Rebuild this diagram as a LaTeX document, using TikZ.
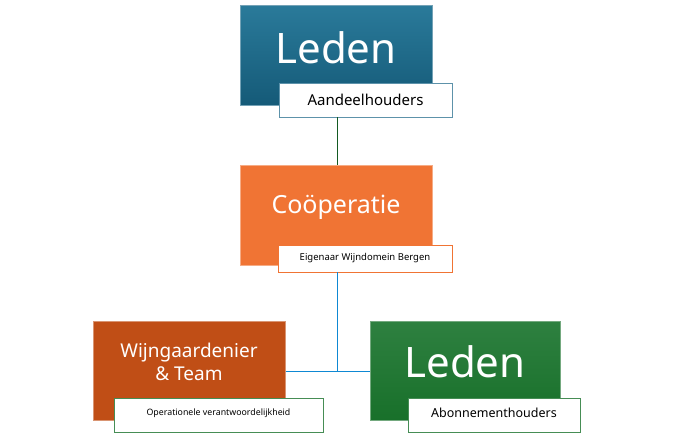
\documentclass[tikz,border=0pt]{standalone}
\usepackage{fontspec}
\setmainfont{Noto Sans}
\usetikzlibrary{positioning}
\definecolor{cblue}{HTML}{176485}
\definecolor{cblueT}{HTML}{2A7A9A}
\definecolor{corange}{HTML}{F07434}
\definecolor{cbrown}{HTML}{C04E16}
\definecolor{cgreen}{HTML}{18702A}
\definecolor{cgreenT}{HTML}{2E8040}
\tikzset{
  bigbox/.style={draw=#1!60!white, line width=0.8pt, anchor=north west, inner sep=0pt, text=white},
  lbl/.style={draw=#1, line width=0.8pt, fill=white, anchor=north west, inner sep=0pt, text=black},
}
\begin{document}
\begin{tikzpicture}[x=1pt,y=-1pt]
\useasboundingbox (0,0) rectangle (700,435);
% top
\node[bigbox=cblue, top color=cblueT, bottom color=cblue!90!black, minimum width=192pt, minimum height=100pt] (top) at (240,5) {};
\node[text=white, font=\fontsize{42}{46}\selectfont] (topt) at (336,48) {Leden};
\node[lbl=cblue!70, minimum width=173pt, minimum height=34pt] (topl) at (279,83) {};
\node[font=\fontsize{15}{18}\selectfont] (toplt) at (365.5,100) {Aandeelhouders};
% middle
\node[bigbox=corange, fill=corange, minimum width=192pt, minimum height=100pt] (mid) at (240,165) {};
\node[text=white, font=\fontsize{25}{30}\selectfont] (midt) at (336,207) {Coöperatie};
\node[lbl=corange, minimum width=174pt, minimum height=27pt] (midl) at (278,245) {};
\node[font=\fontsize{9.5}{11}\selectfont] (midlt) at (365,258.5) {Eigenaar Wijndomein Bergen};
% left
\node[bigbox=cbrown, fill=cbrown, minimum width=192pt, minimum height=99pt] (lb) at (93,321) {};
\node[text=white, align=center, font=\fontsize{19}{23}\selectfont] (lbt) at (189,362) {Wijngaardenier\\\& Team};
\node[lbl=cgreen!80, minimum width=209pt, minimum height=34pt] (lbl1) at (114,398) {};
\node[font=\fontsize{8.8}{10}\selectfont] (lblt) at (218.5,413) {Operationele verantwoordelijkheid};
% right
\node[bigbox=cgreen, top color=cgreenT, bottom color=cgreen, minimum width=190pt, minimum height=99pt] (rb) at (370,321) {};
\node[text=white, font=\fontsize{42}{46}\selectfont] (rbt) at (465,362) {Leden};
\node[lbl=cgreen!80, minimum width=172pt, minimum height=34pt] (rbl) at (408,398) {};
\node[font=\fontsize{12.5}{15}\selectfont] (rblt) at (494,413) {Abonnementhouders};
% connectors
\coordinate (j) at (337,371);
\draw[cgreen!80!black, line width=1pt] (337,117) -- (337,165);
\draw[cyan!70!blue, line width=1pt] (337,272) -- (j);
\draw[cyan!70!blue, line width=1pt] (lb.east |- j) -- (rb.west |- j);
\end{tikzpicture}
\end{document}
